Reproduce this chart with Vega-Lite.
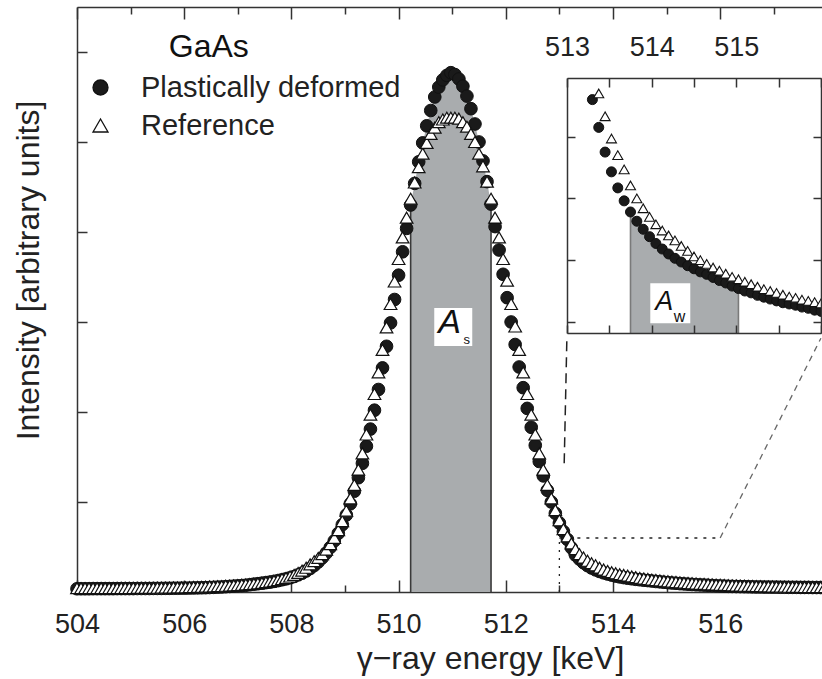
{
  "$schema": "https://vega.github.io/schema/vega-lite/v6.json",
  "width": 745,
  "height": 585,
  "autosize": {"type": "none"},
  "padding": {"left": 77, "top": 7, "right": 0, "bottom": 87},
  "config": {"font": "Liberation Sans", "view": {"stroke": null}},
  "datasets": {
    "spectrum": [
      {"E":504.0,"pd":0.036,"ref":0.042},{"E":504.075,"pd":0.036,"ref":0.042},{"E":504.15,"pd":0.036,"ref":0.042},{"E":504.225,"pd":0.036,"ref":0.042},
      {"E":504.3,"pd":0.037,"ref":0.042},{"E":504.375,"pd":0.037,"ref":0.042},{"E":504.45,"pd":0.037,"ref":0.043},{"E":504.525,"pd":0.037,"ref":0.043},
      {"E":504.6,"pd":0.037,"ref":0.043},{"E":504.675,"pd":0.037,"ref":0.043},{"E":504.75,"pd":0.038,"ref":0.043},{"E":504.825,"pd":0.038,"ref":0.044},
      {"E":504.9,"pd":0.038,"ref":0.044},{"E":504.975,"pd":0.038,"ref":0.044},{"E":505.05,"pd":0.038,"ref":0.044},{"E":505.125,"pd":0.039,"ref":0.045},
      {"E":505.2,"pd":0.039,"ref":0.045},{"E":505.275,"pd":0.039,"ref":0.045},{"E":505.35,"pd":0.039,"ref":0.046},{"E":505.425,"pd":0.04,"ref":0.046},
      {"E":505.5,"pd":0.04,"ref":0.047},{"E":505.575,"pd":0.04,"ref":0.048},{"E":505.65,"pd":0.041,"ref":0.048},{"E":505.725,"pd":0.041,"ref":0.049},
      {"E":505.8,"pd":0.042,"ref":0.05},{"E":505.875,"pd":0.042,"ref":0.051},{"E":505.95,"pd":0.043,"ref":0.051},{"E":506.025,"pd":0.043,"ref":0.052},
      {"E":506.1,"pd":0.044,"ref":0.054},{"E":506.175,"pd":0.045,"ref":0.055},{"E":506.25,"pd":0.046,"ref":0.056},{"E":506.325,"pd":0.047,"ref":0.057},
      {"E":506.4,"pd":0.048,"ref":0.059},{"E":506.475,"pd":0.05,"ref":0.061},{"E":506.55,"pd":0.052,"ref":0.062},{"E":506.625,"pd":0.054,"ref":0.064},
      {"E":506.7,"pd":0.056,"ref":0.066},{"E":506.775,"pd":0.059,"ref":0.069},{"E":506.85,"pd":0.062,"ref":0.071},{"E":506.925,"pd":0.065,"ref":0.074},
      {"E":507.0,"pd":0.068,"ref":0.077},{"E":507.075,"pd":0.071,"ref":0.08},{"E":507.15,"pd":0.075,"ref":0.084},{"E":507.225,"pd":0.081,"ref":0.087},
      {"E":507.3,"pd":0.087,"ref":0.091},{"E":507.375,"pd":0.092,"ref":0.096},{"E":507.45,"pd":0.098,"ref":0.101},{"E":507.525,"pd":0.104,"ref":0.109},
      {"E":507.6,"pd":0.11,"ref":0.116},{"E":507.675,"pd":0.118,"ref":0.124},{"E":507.75,"pd":0.126,"ref":0.133},{"E":507.825,"pd":0.136,"ref":0.144},
      {"E":507.9,"pd":0.146,"ref":0.156},{"E":507.975,"pd":0.158,"ref":0.172},{"E":508.05,"pd":0.172,"ref":0.189},{"E":508.125,"pd":0.19,"ref":0.212},
      {"E":508.2,"pd":0.209,"ref":0.238},{"E":508.275,"pd":0.233,"ref":0.269},{"E":508.35,"pd":0.261,"ref":0.307},{"E":508.425,"pd":0.294,"ref":0.342},
      {"E":508.5,"pd":0.333,"ref":0.378},{"E":508.575,"pd":0.379,"ref":0.421},{"E":508.65,"pd":0.432,"ref":0.471},{"E":508.725,"pd":0.495,"ref":0.531},
      {"E":508.8,"pd":0.568,"ref":0.602},{"E":508.875,"pd":0.652,"ref":0.687},{"E":508.95,"pd":0.748,"ref":0.787},{"E":509.025,"pd":0.856,"ref":0.903},
      {"E":509.1,"pd":0.98,"ref":1.04},{"E":509.175,"pd":1.12,"ref":1.19},{"E":509.25,"pd":1.27,"ref":1.36},{"E":509.325,"pd":1.43,"ref":1.54},
      {"E":509.4,"pd":1.62,"ref":1.75},{"E":509.475,"pd":1.81,"ref":1.97},{"E":509.55,"pd":2.02,"ref":2.2},{"E":509.625,"pd":2.25,"ref":2.44},
      {"E":509.7,"pd":2.49,"ref":2.69},{"E":509.775,"pd":2.73,"ref":2.94},{"E":509.85,"pd":2.99,"ref":3.2},{"E":509.925,"pd":3.25,"ref":3.45},
      {"E":510.0,"pd":3.52,"ref":3.7},{"E":510.075,"pd":3.78,"ref":3.94},{"E":510.15,"pd":4.04,"ref":4.16},{"E":510.225,"pd":4.3,"ref":4.37},
      {"E":510.3,"pd":4.54,"ref":4.55},{"E":510.375,"pd":4.78,"ref":4.72},{"E":510.45,"pd":4.99,"ref":4.87},{"E":510.525,"pd":5.18,"ref":4.99},
      {"E":510.6,"pd":5.35,"ref":5.09},{"E":510.675,"pd":5.5,"ref":5.16},{"E":510.75,"pd":5.61,"ref":5.22},{"E":510.825,"pd":5.69,"ref":5.25},
      {"E":510.9,"pd":5.74,"ref":5.27},{"E":510.975,"pd":5.77,"ref":5.27},{"E":511.05,"pd":5.75,"ref":5.27},{"E":511.125,"pd":5.7,"ref":5.26},
      {"E":511.2,"pd":5.62,"ref":5.22},{"E":511.275,"pd":5.51,"ref":5.17},{"E":511.35,"pd":5.37,"ref":5.09},{"E":511.425,"pd":5.2,"ref":5.0},
      {"E":511.5,"pd":5.0,"ref":4.87},{"E":511.575,"pd":4.79,"ref":4.73},{"E":511.65,"pd":4.56,"ref":4.56},{"E":511.725,"pd":4.31,"ref":4.37},
      {"E":511.8,"pd":4.06,"ref":4.16},{"E":511.875,"pd":3.8,"ref":3.94},{"E":511.95,"pd":3.53,"ref":3.7},{"E":512.025,"pd":3.27,"ref":3.46},
      {"E":512.1,"pd":3.0,"ref":3.2},{"E":512.175,"pd":2.75,"ref":2.95},{"E":512.25,"pd":2.5,"ref":2.69},{"E":512.325,"pd":2.27,"ref":2.44},
      {"E":512.4,"pd":2.04,"ref":2.2},{"E":512.475,"pd":1.83,"ref":1.97},{"E":512.55,"pd":1.63,"ref":1.75},{"E":512.625,"pd":1.45,"ref":1.54},
      {"E":512.7,"pd":1.29,"ref":1.36},{"E":512.775,"pd":1.13,"ref":1.19},{"E":512.85,"pd":1.0,"ref":1.04},{"E":512.925,"pd":0.875,"ref":0.909},
      {"E":513.0,"pd":0.767,"ref":0.797},{"E":513.075,"pd":0.672,"ref":0.699},{"E":513.15,"pd":0.584,"ref":0.618},{"E":513.225,"pd":0.49,"ref":0.54},
      {"E":513.3,"pd":0.41,"ref":0.476},{"E":513.375,"pd":0.365,"ref":0.42},{"E":513.45,"pd":0.325,"ref":0.383},{"E":513.525,"pd":0.293,"ref":0.347},
      {"E":513.6,"pd":0.267,"ref":0.32},{"E":513.675,"pd":0.246,"ref":0.297},{"E":513.75,"pd":0.228,"ref":0.271},{"E":513.825,"pd":0.213,"ref":0.25},
      {"E":513.9,"pd":0.2,"ref":0.234},{"E":513.975,"pd":0.188,"ref":0.22},{"E":514.05,"pd":0.177,"ref":0.208},{"E":514.125,"pd":0.168,"ref":0.198},
      {"E":514.2,"pd":0.16,"ref":0.19},{"E":514.275,"pd":0.153,"ref":0.182},{"E":514.35,"pd":0.147,"ref":0.173},{"E":514.425,"pd":0.141,"ref":0.165},
      {"E":514.5,"pd":0.136,"ref":0.156},{"E":514.575,"pd":0.131,"ref":0.15},{"E":514.65,"pd":0.127,"ref":0.144},{"E":514.725,"pd":0.122,"ref":0.138},
      {"E":514.8,"pd":0.117,"ref":0.133},{"E":514.875,"pd":0.113,"ref":0.128},{"E":514.95,"pd":0.108,"ref":0.123},{"E":515.025,"pd":0.104,"ref":0.119},
      {"E":515.1,"pd":0.1,"ref":0.115},{"E":515.175,"pd":0.097,"ref":0.111},{"E":515.25,"pd":0.093,"ref":0.107},{"E":515.325,"pd":0.09,"ref":0.103},
      {"E":515.4,"pd":0.087,"ref":0.1},{"E":515.475,"pd":0.084,"ref":0.097},{"E":515.55,"pd":0.081,"ref":0.094},{"E":515.625,"pd":0.079,"ref":0.091},
      {"E":515.7,"pd":0.077,"ref":0.089},{"E":515.775,"pd":0.074,"ref":0.086},{"E":515.85,"pd":0.072,"ref":0.084},{"E":515.925,"pd":0.069,"ref":0.082},
      {"E":516.0,"pd":0.067,"ref":0.08},{"E":516.075,"pd":0.065,"ref":0.078},{"E":516.15,"pd":0.063,"ref":0.076},{"E":516.225,"pd":0.062,"ref":0.074},
      {"E":516.3,"pd":0.061,"ref":0.072},{"E":516.375,"pd":0.06,"ref":0.071},{"E":516.45,"pd":0.059,"ref":0.069},{"E":516.525,"pd":0.058,"ref":0.068},
      {"E":516.6,"pd":0.057,"ref":0.067},{"E":516.675,"pd":0.056,"ref":0.066},{"E":516.75,"pd":0.056,"ref":0.064},{"E":516.825,"pd":0.055,"ref":0.063},
      {"E":516.9,"pd":0.055,"ref":0.062},{"E":516.975,"pd":0.054,"ref":0.061},{"E":517.05,"pd":0.054,"ref":0.06},{"E":517.125,"pd":0.053,"ref":0.059},
      {"E":517.2,"pd":0.053,"ref":0.059},{"E":517.275,"pd":0.052,"ref":0.058},{"E":517.35,"pd":0.052,"ref":0.057},{"E":517.425,"pd":0.052,"ref":0.056},
      {"E":517.5,"pd":0.051,"ref":0.056},{"E":517.575,"pd":0.051,"ref":0.055},{"E":517.65,"pd":0.051,"ref":0.055},{"E":517.725,"pd":0.05,"ref":0.054},
      {"E":517.8,"pd":0.05,"ref":0.054},{"E":517.875,"pd":0.05,"ref":0.053},{"E":517.95,"pd":0.05,"ref":0.053}
    ]
  },
  "data": {"name": "spectrum"},
  "resolve": {"scale": {"x": "independent", "y": "independent"}},
  "layer": [
    {
      "data": {"values": [{}]},
      "mark": {"type": "point", "opacity": 0},
      "encoding": {
        "x": {"datum": 504, "type": "quantitative", "scale": {"domain": [504, 517.9], "nice": false, "zero": false},
          "axis": {"orient": "bottom", "values": [504, 506, 508, 510, 512, 514, 516],
            "tickSize": -12, "tickWidth": 1.5, "tickColor": "#333", "domainColor": "#333", "domainWidth": 1.5,
            "labelFontSize": 27, "labelColor": "#222", "labelPadding": 31, "labelFlush": false, "labelOverlap": false,
            "grid": false, "title": "γ−ray energy [keV]", "titleFontSize": 32, "titleFontWeight": "normal", "titleColor": "#222",
            "titleX": 413, "titleY": 76, "titleBaseline": "alphabetic", "titleAlign": "center"}},
        "y": {"datum": 0, "type": "quantitative", "scale": {"domain": [0, 6.5], "nice": false, "zero": false},
          "axis": {"orient": "left", "values": [0, 1, 2, 3, 4, 5, 6], "labels": false, "tickSize": -10,
            "tickWidth": 1.5, "tickColor": "#333", "domainColor": "#333", "domainWidth": 1.5, "grid": false,
            "title": "Intensity [arbitrary units]", "titleFontSize": 32, "titleFontWeight": "normal", "titleColor": "#222",
            "titleX": -49, "titleY": 263, "titleBaseline": "middle", "titleAlign": "center", "titleAngle": -90}}
      }
    },
    {
      "data": {"values": [{}]},
      "mark": {"type": "point", "opacity": 0},
      "encoding": {
        "x": {"datum": 504, "type": "quantitative", "scale": {"domain": [504, 517.9], "nice": false, "zero": false},
          "axis": {"orient": "bottom", "values": [505, 507, 509, 511, 513, 515, 517], "labels": false, "domain": false,
            "tickSize": -7, "tickWidth": 1.5, "tickColor": "#333", "grid": false, "title": null}},
        "y": {"datum": 0, "type": "quantitative", "scale": {"domain": [0, 6.5], "nice": false, "zero": false}, "axis": null}
      }
    },
    {
      "data": {"values": [{}]},
      "mark": {"type": "point", "opacity": 0},
      "encoding": {
        "x": {"datum": 504, "type": "quantitative", "scale": {"domain": [504, 517.9], "nice": false, "zero": false},
          "axis": {"orient": "top", "values": [504, 506, 508, 510, 512, 514, 516], "labels": false,
            "tickSize": -12, "tickWidth": 1.5, "tickColor": "#333", "domainColor": "#333", "domainWidth": 1.5, "grid": false, "title": null}},
        "y": {"datum": 0, "type": "quantitative", "scale": {"domain": [0, 6.5], "nice": false, "zero": false}, "axis": null}
      }
    },
    {
      "data": {"values": [{}]},
      "mark": {"type": "point", "opacity": 0},
      "encoding": {
        "x": {"datum": 504, "type": "quantitative", "scale": {"domain": [504, 517.9], "nice": false, "zero": false},
          "axis": {"orient": "top", "values": [505, 507, 509, 511, 513, 515, 517], "labels": false, "domain": false,
            "tickSize": -7, "tickWidth": 1.5, "tickColor": "#333", "grid": false, "title": null}},
        "y": {"datum": 0, "type": "quantitative", "scale": {"domain": [0, 6.5], "nice": false, "zero": false}, "axis": null}
      }
    },
    {
      "transform": [{"filter": "datum.E >= 510.2 && datum.E <= 511.75"}],
      "mark": {"type": "area", "color": "#a9acae", "interpolate": "linear"},
      "encoding": {
        "x": {"field": "E", "type": "quantitative", "scale": {"domain": [504, 517.9], "nice": false, "zero": false}, "axis": null},
        "y": {"field": "pd", "type": "quantitative", "scale": {"domain": [0, 6.5], "nice": false, "zero": false}, "axis": null}
      }
    },
    {
      "transform": [{"filter": "abs(datum.E - 510.225) < 0.01 || abs(datum.E - 511.725) < 0.01"}],
      "mark": {"type": "rule", "color": "#3a3a3a", "strokeWidth": 1.6},
      "encoding": {
        "x": {"field": "E", "type": "quantitative", "scale": {"domain": [504, 517.9], "nice": false, "zero": false}, "axis": null},
        "y": {"field": "pd", "type": "quantitative", "scale": {"domain": [0, 6.5], "nice": false, "zero": false}, "axis": null},
        "y2": {"datum": 0}
      }
    },
    {
      "data": {"values": [{"E": 513.14, "v": 2.82}, {"E": 513.09, "v": 1.43}]},
      "mark": {"type": "line", "color": "#222", "strokeWidth": 1.5, "strokeDash": [10, 6]},
      "encoding": {
        "x": {"field": "E", "type": "quantitative", "scale": {"domain": [504, 517.9], "nice": false, "zero": false}, "axis": null},
        "y": {"field": "v", "type": "quantitative", "scale": {"domain": [0, 6.5], "nice": false, "zero": false}, "axis": null}
      }
    },
    {
      "data": {"values": [{"E": 516.0, "v": 0.6}, {"E": 517.88, "v": 2.82}]},
      "mark": {"type": "line", "color": "#666", "strokeWidth": 1.3, "strokeDash": [6, 5]},
      "encoding": {
        "x": {"field": "E", "type": "quantitative", "scale": {"domain": [504, 517.9], "nice": false, "zero": false}, "axis": null},
        "y": {"field": "v", "type": "quantitative", "scale": {"domain": [0, 6.5], "nice": false, "zero": false}, "axis": null}
      }
    },
    {
      "data": {"values": [{"E": 513.0, "v": 0.6}, {"E": 516.0, "v": 0.6}]},
      "mark": {"type": "line", "color": "#222", "strokeWidth": 1.3, "strokeDash": [3, 6]},
      "encoding": {
        "x": {"field": "E", "type": "quantitative", "scale": {"domain": [504, 517.9], "nice": false, "zero": false}, "axis": null},
        "y": {"field": "v", "type": "quantitative", "scale": {"domain": [0, 6.5], "nice": false, "zero": false}, "axis": null}
      }
    },
    {
      "data": {"values": [{"E": 513.0, "v": 0.0}, {"E": 513.0, "v": 0.6}]},
      "mark": {"type": "line", "color": "#222", "strokeWidth": 1.3, "strokeDash": [2, 6]},
      "encoding": {
        "x": {"field": "E", "type": "quantitative", "scale": {"domain": [504, 517.9], "nice": false, "zero": false}, "axis": null},
        "y": {"field": "v", "type": "quantitative", "scale": {"domain": [0, 6.5], "nice": false, "zero": false}, "axis": null}
      }
    },
    {
      "transform": [{"fold": ["pd", "ref"], "as": ["series", "value"]}, {"filter": "datum.series === 'pd'"}],
      "mark": {"type": "point", "filled": true, "strokeWidth": 1, "size": 160, "opacity": 1},
      "encoding": {
        "x": {"field": "E", "type": "quantitative", "scale": {"domain": [504, 517.9], "nice": false, "zero": false}, "axis": null},
        "y": {"field": "value", "type": "quantitative", "scale": {"domain": [0, 6.5], "nice": false, "zero": false}, "axis": null},
        "shape": {"field": "series", "type": "nominal", "scale": {"domain": ["pd", "ref"], "range": ["circle", "triangle-up"]},
          "legend": {"title": null, "orient": "none", "legendX": 9, "legendY": 66, "padding": 0,
            "labelExpr": "datum.label === 'pd' ? 'Plastically deformed' : 'Reference'",
            "labelFontSize": 29, "labelColor": "#222", "labelLimit": 400, "labelOffset": 26,
            "symbolSize": 225, "symbolStrokeWidth": 1.3, "rowPadding": 8}},
        "fill": {"field": "series", "type": "nominal", "scale": {"domain": ["pd", "ref"], "range": ["#1a1a1a", "#ffffff"]},
          "legend": {"title": null, "orient": "none", "legendX": 9, "legendY": 66, "padding": 0,
            "labelExpr": "datum.label === 'pd' ? 'Plastically deformed' : 'Reference'",
            "labelFontSize": 29, "labelColor": "#222", "labelLimit": 400, "labelOffset": 26,
            "symbolSize": 225, "symbolStrokeWidth": 1.3, "rowPadding": 8}},
        "stroke": {"field": "series", "type": "nominal", "scale": {"domain": ["pd", "ref"], "range": ["#111111", "#111111"]},
          "legend": {"title": null, "orient": "none", "legendX": 9, "legendY": 66, "padding": 0,
            "labelExpr": "datum.label === 'pd' ? 'Plastically deformed' : 'Reference'",
            "labelFontSize": 29, "labelColor": "#222", "labelLimit": 400, "labelOffset": 26,
            "symbolSize": 225, "symbolStrokeWidth": 1.3, "rowPadding": 8}}
      }
    },
    {
      "transform": [{"fold": ["pd", "ref"], "as": ["series", "value"]}, {"filter": "datum.series === 'ref'"}],
      "mark": {"type": "point", "filled": true, "strokeWidth": 1.2, "size": 160, "opacity": 1},
      "encoding": {
        "x": {"field": "E", "type": "quantitative", "scale": {"domain": [504, 517.9], "nice": false, "zero": false}, "axis": null},
        "y": {"field": "value", "type": "quantitative", "scale": {"domain": [0, 6.5], "nice": false, "zero": false}, "axis": null},
        "shape": {"field": "series", "type": "nominal"},
        "fill": {"field": "series", "type": "nominal"},
        "stroke": {"field": "series", "type": "nominal"}
      }
    },
    {
      "data": {"values": [{}]},
      "mark": {"type": "text", "text": "GaAs", "fontSize": 32, "color": "#111", "align": "center", "baseline": "alphabetic"},
      "encoding": {
        "x": {"datum": 506.46, "type": "quantitative", "scale": {"domain": [504, 517.9], "nice": false, "zero": false}, "axis": null},
        "y": {"datum": 5.94, "type": "quantitative", "scale": {"domain": [0, 6.5], "nice": false, "zero": false}, "axis": null}
      }
    },
    {
      "data": {"values": [{}]},
      "mark": {"type": "point", "shape": "square", "filled": true, "color": "#ffffff", "size": 1444, "opacity": 1},
      "encoding": {
        "x": {"datum": 511.02, "type": "quantitative", "scale": {"domain": [504, 517.9], "nice": false, "zero": false}, "axis": null},
        "y": {"datum": 2.944, "type": "quantitative", "scale": {"domain": [0, 6.5], "nice": false, "zero": false}, "axis": null}
      }
    },
    {
      "data": {"values": [{}]},
      "mark": {"type": "text", "text": "A", "fontSize": 34, "fontStyle": "italic", "color": "#111", "align": "center", "baseline": "alphabetic"},
      "encoding": {
        "x": {"datum": 510.95, "type": "quantitative", "scale": {"domain": [504, 517.9], "nice": false, "zero": false}, "axis": null},
        "y": {"datum": 2.88, "type": "quantitative", "scale": {"domain": [0, 6.5], "nice": false, "zero": false}, "axis": null}
      }
    },
    {
      "data": {"values": [{}]},
      "mark": {"type": "text", "text": "s", "fontSize": 13, "color": "#111", "align": "center", "baseline": "middle"},
      "encoding": {
        "x": {"datum": 511.27, "type": "quantitative", "scale": {"domain": [504, 517.9], "nice": false, "zero": false}, "axis": null},
        "y": {"datum": 2.8, "type": "quantitative", "scale": {"domain": [0, 6.5], "nice": false, "zero": false}, "axis": null}
      }
    },
    {
      "data": {"values": [{}]},
      "mark": {"type": "point", "opacity": 0},
      "encoding": {
        "x": {"datum": 513, "type": "quantitative", "scale": {"domain": [513, 516], "range": [490, 744], "nice": false, "zero": false},
          "axis": {"orient": "top", "offset": -71, "values": [513, 513.5, 514, 514.5, 515, 515.5, 516], "format": ".0f",
            "labelExpr": "datum.value === 513 || datum.value === 514 || datum.value === 515 ? datum.label : ''",
            "tickSize": -9, "tickWidth": 1.5, "tickColor": "#333", "domainColor": "#333", "domainWidth": 1.5,
            "labelFontSize": 27, "labelColor": "#222", "labelPadding": 26, "labelFlush": false, "labelOverlap": false,
            "grid": false, "title": null, "zindex": 1}},
        "y": {"datum": 0.05, "type": "quantitative", "scale": {"domain": [0.032, 0.445], "range": [326, 71], "nice": false, "zero": false},
          "axis": {"orient": "left", "offset": -490, "values": [0.05, 0.15, 0.25, 0.35], "labels": false, "tickSize": -8,
            "tickWidth": 1.5, "tickColor": "#333", "domainColor": "#333", "domainWidth": 1.5, "grid": false, "title": null, "zindex": 1}}
      }
    },
    {
      "data": {"values": [{}]},
      "mark": {"type": "point", "opacity": 0},
      "encoding": {
        "x": {"datum": 513, "type": "quantitative", "scale": {"domain": [513, 516], "range": [490, 744], "nice": false, "zero": false},
          "axis": {"orient": "bottom", "offset": -259, "values": [513, 513.5, 514, 514.5, 515, 515.5, 516], "labels": false,
            "tickSize": -8, "tickWidth": 1.5, "tickColor": "#333", "domainColor": "#333", "domainWidth": 1.5,
            "grid": false, "title": null, "zindex": 1}},
        "y": {"datum": 0.05, "type": "quantitative", "scale": {"domain": [0.032, 0.445], "range": [326, 71], "nice": false, "zero": false},
          "axis": {"orient": "right", "offset": -1, "values": [0.05, 0.15, 0.25, 0.35], "labels": false, "tickSize": -8,
            "tickWidth": 1.5, "tickColor": "#333", "domainColor": "#333", "domainWidth": 1.5, "grid": false, "title": null, "zindex": 1}}
      }
    },
    {
      "transform": [{"filter": "datum.E >= 513.74 && datum.E <= 515.03"}],
      "mark": {"type": "area", "color": "#a9acae", "interpolate": "linear"},
      "encoding": {
        "x": {"field": "E", "type": "quantitative", "scale": {"domain": [513, 516], "range": [490, 744], "nice": false, "zero": false}, "axis": null},
        "y": {"field": "pd", "type": "quantitative", "scale": {"domain": [0.032, 0.445], "range": [326, 71], "nice": false, "zero": false}, "axis": null},
        "y2": {"datum": 0.032}
      }
    },
    {
      "transform": [{"filter": "abs(datum.E - 513.75) < 0.01 || abs(datum.E - 515.025) < 0.01"}],
      "mark": {"type": "rule", "color": "#7a7a7a", "strokeWidth": 1.6},
      "encoding": {
        "x": {"field": "E", "type": "quantitative", "scale": {"domain": [513, 516], "range": [490, 744], "nice": false, "zero": false}, "axis": null},
        "y": {"field": "pd", "type": "quantitative", "scale": {"domain": [0.032, 0.445], "range": [326, 71], "nice": false, "zero": false}, "axis": null},
        "y2": {"datum": 0.032}
      }
    },
    {
      "transform": [{"fold": ["pd", "ref"], "as": ["series", "value"]}, {"filter": "datum.series === 'pd' && datum.E >= 513.2 && datum.E <= 516.05 && datum.value <= 0.445"}],
      "mark": {"type": "point", "filled": true, "strokeWidth": 1, "size": 100, "opacity": 1},
      "encoding": {
        "x": {"field": "E", "type": "quantitative", "scale": {"domain": [513, 516], "range": [490, 744], "nice": false, "zero": false}, "axis": null},
        "y": {"field": "value", "type": "quantitative", "scale": {"domain": [0.032, 0.445], "range": [326, 71], "nice": false, "zero": false}, "axis": null},
        "shape": {"field": "series", "type": "nominal"},
        "fill": {"field": "series", "type": "nominal"},
        "stroke": {"field": "series", "type": "nominal"}
      }
    },
    {
      "transform": [{"fold": ["pd", "ref"], "as": ["series", "value"]}, {"filter": "datum.series === 'ref' && datum.E >= 513.2 && datum.E <= 516.05 && datum.value <= 0.445"}],
      "mark": {"type": "point", "filled": true, "strokeWidth": 1.1, "size": 100, "opacity": 1},
      "encoding": {
        "x": {"field": "E", "type": "quantitative", "scale": {"domain": [513, 516], "range": [490, 744], "nice": false, "zero": false}, "axis": null},
        "y": {"field": "value", "type": "quantitative", "scale": {"domain": [0.032, 0.445], "range": [326, 71], "nice": false, "zero": false}, "axis": null},
        "shape": {"field": "series", "type": "nominal"},
        "fill": {"field": "series", "type": "nominal"},
        "stroke": {"field": "series", "type": "nominal"}
      }
    },
    {
      "data": {"values": [{}]},
      "mark": {"type": "point", "shape": "square", "filled": true, "color": "#ffffff", "size": 1600, "opacity": 1},
      "encoding": {
        "x": {"datum": 514.22, "type": "quantitative", "scale": {"domain": [513, 516], "range": [490, 744], "nice": false, "zero": false}, "axis": null},
        "y": {"datum": 0.08, "type": "quantitative", "scale": {"domain": [0.032, 0.445], "range": [326, 71], "nice": false, "zero": false}, "axis": null}
      }
    },
    {
      "data": {"values": [{}]},
      "mark": {"type": "text", "text": "A", "fontSize": 27, "fontStyle": "italic", "color": "#111", "align": "center", "baseline": "alphabetic"},
      "encoding": {
        "x": {"datum": 514.15, "type": "quantitative", "scale": {"domain": [513, 516], "range": [490, 744], "nice": false, "zero": false}, "axis": null},
        "y": {"datum": 0.069, "type": "quantitative", "scale": {"domain": [0.032, 0.445], "range": [326, 71], "nice": false, "zero": false}, "axis": null}
      }
    },
    {
      "data": {"values": [{}]},
      "mark": {"type": "text", "text": "w", "fontSize": 16, "color": "#111", "align": "center", "baseline": "middle"},
      "encoding": {
        "x": {"datum": 514.33, "type": "quantitative", "scale": {"domain": [513, 516], "range": [490, 744], "nice": false, "zero": false}, "axis": null},
        "y": {"datum": 0.058, "type": "quantitative", "scale": {"domain": [0.032, 0.445], "range": [326, 71], "nice": false, "zero": false}, "axis": null}
      }
    }
  ]
}
